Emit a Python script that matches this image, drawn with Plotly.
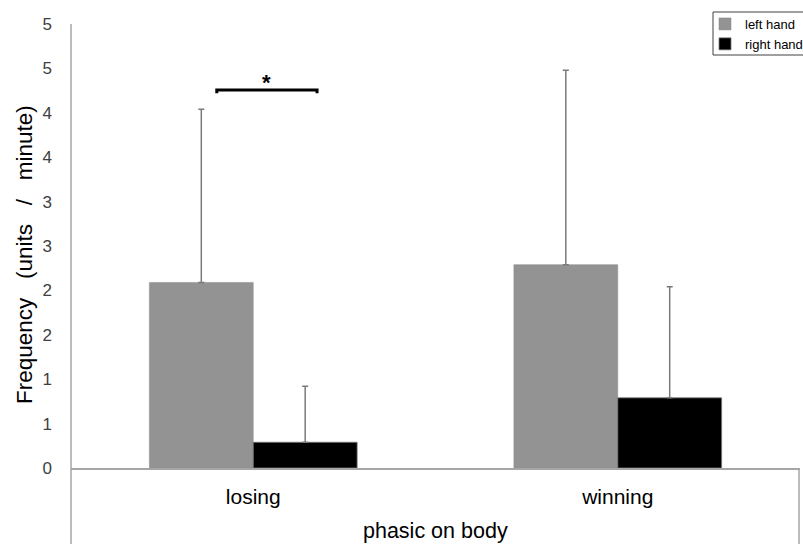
import plotly.graph_objects as go

categories = ["losing", "winning"]
left_hand = [2.09, 2.29]
left_err = [1.95, 2.19]
right_hand = [0.29, 0.79]
right_err = [0.63, 1.25]
tick_vals = [0, 0.5, 1, 1.5, 2, 2.5, 3, 3.5, 4, 4.5, 5]
tick_text = ["0", "1", "1", "2", "2", "3", "3", "4", "4", "5", "5"]

FONT = "Liberation Sans, Arial, sans-serif"
AXC = "#a6a6a6"
W, H = 803, 544

fig = go.Figure()
fig.add_trace(go.Bar(
    name="left hand", x=categories, y=left_hand,
    marker=dict(color="#939393", line=dict(color="#8a8a8a", width=0.5)),
    error_y=dict(type="data", symmetric=False, array=left_err, arrayminus=[0, 0],
                 color="#7a7a7a", thickness=1.5, width=3),
))
fig.add_trace(go.Bar(
    name="right hand", x=categories, y=right_hand,
    marker=dict(color="#000000", line=dict(color="#7a7a7a", width=0.8)),
    error_y=dict(type="data", symmetric=False, array=right_err, arrayminus=[0, 0],
                 color="#7a7a7a", thickness=1.5, width=3),
))

fig.update_layout(
    width=W, height=H,
    margin=dict(l=71, r=3, t=24, b=76, autoexpand=False),
    paper_bgcolor="white", plot_bgcolor="white",
    barmode="group", bargap=0.43, bargroupgap=0,
    font=dict(family=FONT, color="#404040"),
    showlegend=True,
    legend=dict(
        x=705 / W, xref="container", y=1 - 9 / H, yref="container",
        xanchor="left", yanchor="top",
        borderwidth=0, bgcolor="rgba(0,0,0,0)",
        font=dict(size=13, color="#000000", family=FONT),
        itemwidth=30, tracegroupgap=0,
    ),
    xaxis=dict(
        range=[-0.5, 1.5], showline=True, linecolor=AXC, linewidth=1.5,
        showgrid=False, zeroline=False, ticks="",
        tickfont=dict(size=21, color="#000000"),
        ticklabelstandoff=9,
    ),
    yaxis=dict(
        range=[0, 5], showline=False, showgrid=False, zeroline=False,
        tickmode="array", tickvals=tick_vals, ticktext=tick_text,
        ticks="", tickfont=dict(size=17, color="#404040"),
        ticklabelstandoff=18,
    ),
    shapes=[
        # legend frame
        dict(type="rect", xref="paper", yref="paper",
             x0=(713 - 71) / 729, x1=(806 - 71) / 729,
             y0=(468 - 55) / 444, y1=(468 - 12) / 444,
             line=dict(color="#404040", width=1), fillcolor="white", layer="below"),
        # extended vertical axis lines (category box)
        dict(type="line", xref="paper", yref="paper", x0=0, x1=0,
             y0=-76 / 444, y1=1.0, line=dict(color=AXC, width=1.5)),
        dict(type="line", xref="paper", yref="paper", x0=1 - 1 / 729, x1=1 - 1 / 729,
             y0=-76 / 444, y1=0, line=dict(color=AXC, width=1.5)),
        # significance bracket
        dict(type="path", xref="x", yref="y",
             path="M -0.1,4.22 L -0.1,4.257 L 0.175,4.257 L 0.175,4.22",
             line=dict(color="#000000", width=3)),
    ],
    annotations=[
        dict(text="<b>*</b>", xref="x", yref="y", x=0.037, y=4.345, showarrow=False,
             yanchor="middle", font=dict(size=22, color="#000000", family=FONT)),
        dict(text="Frequency   (units   /   minute)", xref="paper", yref="paper",
             x=0, xshift=-47, y=(468 - 255) / 444, xanchor="center", yanchor="middle",
             textangle=-90, showarrow=False,
             font=dict(size=22.5, color="#000000", family=FONT)),
        dict(text="phasic on body", xref="paper", yref="paper",
             x=0.5, y=0, yshift=-63, xanchor="center", yanchor="middle", showarrow=False,
             font=dict(size=21.5, color="#000000", family=FONT)),
    ],
)

fig.write_html("out.html", config={"displayModeBar": False},
               post_script="document.body.style.margin='0';")
